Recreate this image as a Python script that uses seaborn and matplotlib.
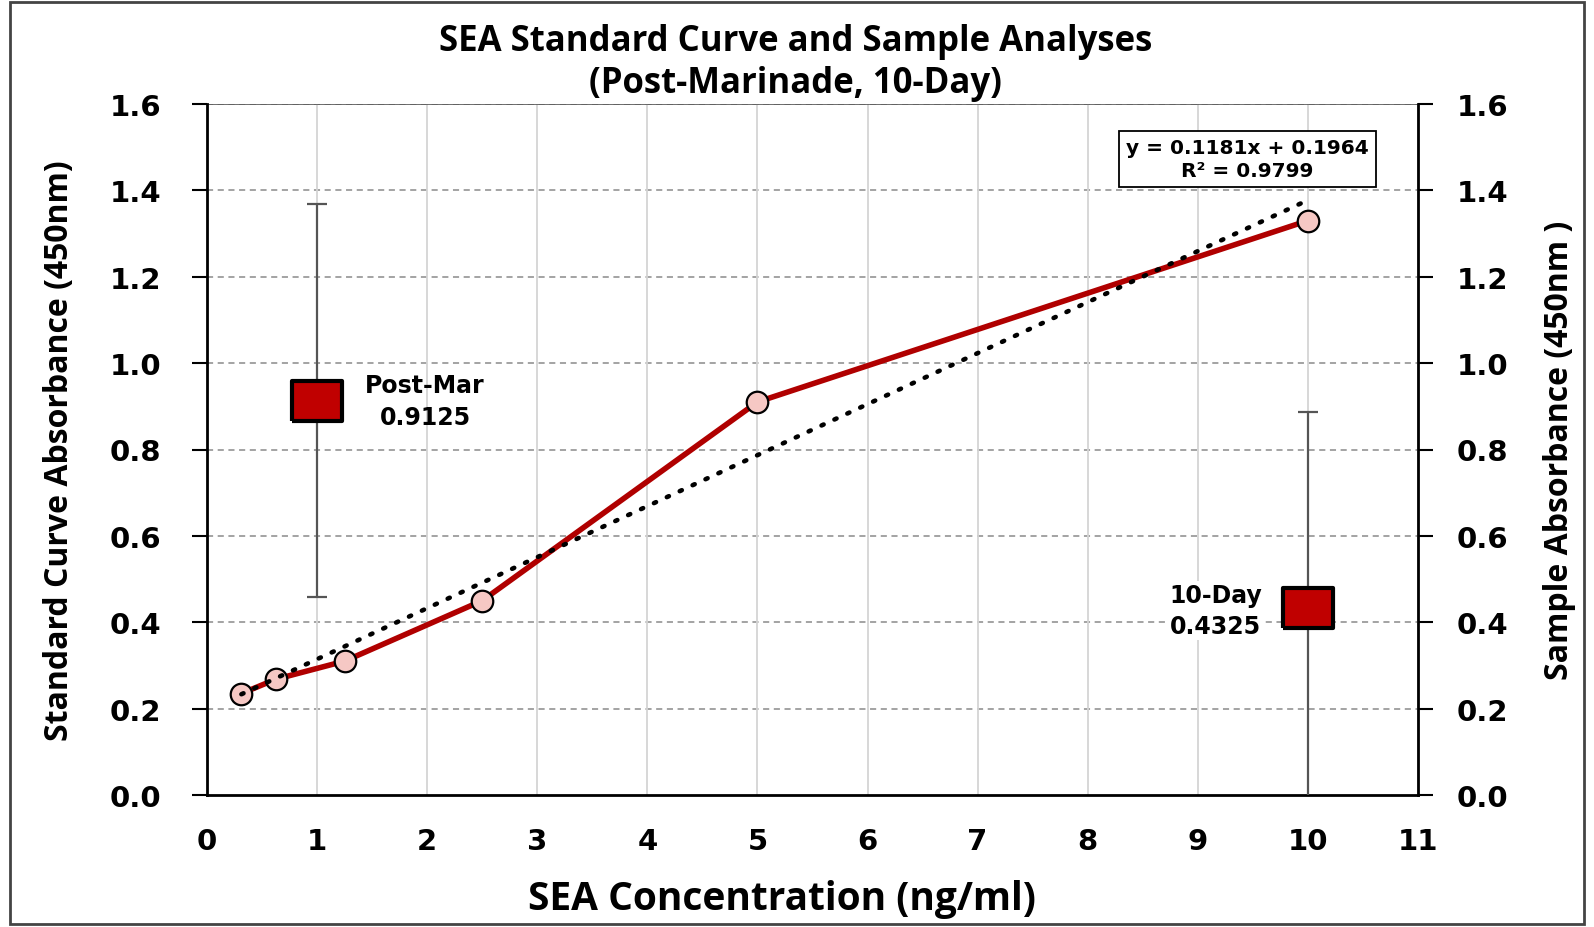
import numpy as np
import pandas as pd
import matplotlib
matplotlib.use("Agg")
import matplotlib.pyplot as plt
import seaborn as sns
from matplotlib.patches import Rectangle

# ---- data ----
std_conc = [0.3125, 0.625, 1.25, 2.5, 5, 10]
std_abs = [0.235, 0.268, 0.31, 0.45, 0.91, 1.33]
fit_slope = 0.1181
fit_intercept = 0.1964
fit_label = "y = 0.1181x + 0.1964\nR² = 0.9799"
sample_names = ["Post-Mar", "10-Day"]
sample_x = [1, 10]
sample_abs = [0.9125, 0.4325]
sample_err = [0.455, 0.455]
x_ticks = list(range(0, 12))
y_ticks = [0.0, 0.2, 0.4, 0.6, 0.8, 1.0, 1.2, 1.4, 1.6]

sns.set_theme(style="white")
plt.rcParams['font.family'] = ['DejaVu Sans']
for k in ("text.color", "axes.labelcolor", "xtick.color", "ytick.color"):
    plt.rcParams[k] = "black"

W, H = 1594, 928
fig = plt.figure(figsize=(W / 100, H / 100), dpi=100)
ax = fig.add_axes([207 / W, 1 - 796 / H, (1418 - 207) / W, (796 - 105) / H])
ax2 = ax.twinx()

# grid
for yv in y_ticks[1:]:
    ax.axhline(yv, color="#8a8a8a", lw=1.1, ls=(0, (4, 3)), zorder=0)
for xv in x_ticks[1:]:
    ax.axvline(xv, color="#d4d4d4", lw=1.3, zorder=0)

df = pd.DataFrame({"conc": std_conc, "abs": std_abs})
sns.lineplot(data=df, x="conc", y="abs", ax=ax, color="#B00000", lw=4,
             marker="o", markersize=15.5, markerfacecolor="#F6C8C4",
             markeredgecolor="black", markeredgewidth=1.6, zorder=3)

# trendline
xf = np.array([min(std_conc), max(std_conc)])
ax.plot(xf, fit_slope * xf + fit_intercept, color="black", lw=3.3,
        ls=(0, (0.5, 2.6)), dash_capstyle="round", zorder=4)

ax.set_xlim(0, 11)
ax.set_ylim(0, 1.6)
ax.set_xticks(x_ticks)
ax.set_yticks(y_ticks)
ax.set_yticklabels([f"{v:.1f}" for v in y_ticks])
ax2.set_ylim(0, 1.6)
ax2.set_yticks(y_ticks)
ax2.set_yticklabels([f"{v:.1f}" for v in y_ticks])

# samples (secondary axis)
ax2.errorbar(sample_x, sample_abs, yerr=sample_err, fmt="none",
             ecolor="#555555", elinewidth=1.6, capsize=7, capthick=1.6, zorder=2)
rect_marker = [(-1.0, -0.8), (1.0, -0.8), (1.0, 0.8), (-1.0, 0.8), (-1.0, -0.8)]
sdf = pd.DataFrame({"x": sample_x, "y": sample_abs, "name": sample_names})
sns.scatterplot(data=sdf, x="x", y="y", ax=ax2, marker=rect_marker, s=1300,
                color="#C00000", edgecolor="black", linewidth=3, zorder=5,
                legend=False)
ax2.set_ylim(0, 1.6)

tfont = dict(fontsize=17, fontweight="bold", family="DejaVu Sans")
ax2.text(1.98, 0.9125, f"{sample_names[0]}\n{sample_abs[0]:.4f}",
         ha="center", va="center", multialignment="center",
         linespacing=1.4, **tfont)
ax2.text(9.16, 0.4325 - 0.005, f"{sample_names[1]}\n{sample_abs[1]:.4f}",
         ha="center", va="center", multialignment="center", linespacing=1.4,
         bbox=dict(facecolor="white", edgecolor="none", pad=1), **tfont)

ax.text(9.45, 1.473, fit_label, ha="center", va="center", fontsize=14.5,
        fontweight="bold", linespacing=1.3, zorder=6,
        bbox=dict(facecolor="white", edgecolor="black", lw=1.3, pad=5))

for a in (ax, ax2):
    for s in a.spines.values():
        s.set_visible(False)
ax.spines["left"].set_visible(True)
ax.spines["bottom"].set_visible(True)
ax2.spines["right"].set_visible(True)
for s in (ax.spines["left"], ax.spines["bottom"], ax2.spines["right"]):
    s.set_color("black")
    s.set_linewidth(2)
ax.axhline(1.6, color="#555555", lw=1.2, zorder=0)

ax.tick_params(axis="both", which="major", direction="out", length=11,
               width=1.5, color="black", labelsize=21, pad=22)
ax.tick_params(axis="x", pad=12)
ax2.tick_params(axis="y", direction="out", length=11, width=1.5,
                color="black", labelsize=21, pad=17)
for lab in ax.get_xticklabels() + ax.get_yticklabels() + ax2.get_yticklabels():
    lab.set_fontweight("bold")

ax.set_xlabel("SEA Concentration (ng/ml)", fontsize=28, fontweight="bold",
              family="Open Sans", labelpad=16)
ax.xaxis.set_label_coords(0.475, -0.121)
ax.set_ylabel("Standard Curve Absorbance (450nm)", fontsize=23,
              fontweight="bold", family="Open Sans", labelpad=24)
ax2.set_ylabel("Sample Absorbance (450nm )", fontsize=23,
               fontweight="bold", family="Open Sans", labelpad=25)
ax.set_title("SEA Standard Curve and Sample Analyses\n(Post-Marinade, 10-Day)",
             fontsize=25, fontweight="bold", family="Open Sans",
             linespacing=1.2, pad=9, x=0.486)

fig.patches.append(Rectangle((10 / W, 1 - 925 / H), (1584 - 10) / W,
                             (925 - 3) / H, transform=fig.transFigure,
                             fill=False, edgecolor="#444444", lw=2))

fig.savefig("out.png", dpi=100)
